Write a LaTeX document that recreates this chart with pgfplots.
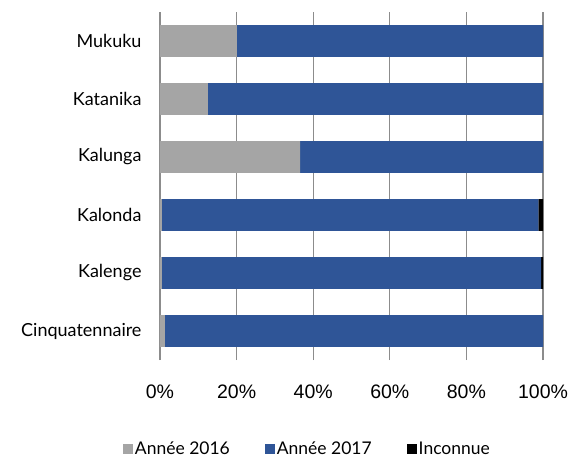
\documentclass[border=0pt]{standalone}
\usepackage{fontspec}
\setmainfont{Lato}
\newfontfamily\tickfont{Liberation Sans}
\usepackage{pgfplots}
\pgfplotsset{compat=1.18}
\definecolor{g16}{RGB}{165,165,165}
\definecolor{b17}{RGB}{47,85,151}
\definecolor{gridc}{RGB}{140,140,140}
\begin{document}
\begin{tikzpicture}
\begin{axis}[
  xbar stacked,
  scale only axis,
  width=383bp, height=348bp,
  xmin=0, xmax=100,
  ymin=-0.5, ymax=5.5,
  bar width=0.55,
  ytick={0,1,2,3,4,5},
  yticklabels={Cinquatennaire,Kalenge,Kalonda,Kalunga,Katanika,Mukuku},
  xtick={0,20,40,60,80,100},
  xticklabels={0\%,20\%,40\%,60\%,80\%,100\%},
  major tick length=0pt,
  xticklabel style={yshift=-21bp, font=\tickfont\fontsize{19.5bp}{22bp}\selectfont},
  yticklabel style={xshift=-15bp, font=\fontsize{18bp}{20bp}\selectfont},
  xmajorgrids,
  grid style={gridc, line width=1.1pt},
  axis line style={draw=none},
  every axis plot/.append style={draw=none},
  legend style={at={(0.385,-0.222)}, anchor=north, draw=none, legend columns=3,
    /tikz/every even column/.append style={column sep=33bp},
    font=\fontsize{17.5bp}{20bp}\selectfont},
  legend image code/.code={\fill[#1] (0bp,-5bp) rectangle (10bp,5bp);},
]
\addplot[fill=g16] coordinates {(1.3,0) (0.5,1) (0.5,2) (36.6,3) (12.5,4) (20.1,5)};
\addplot[fill=b17] coordinates {(98.7,0) (99.0,1) (98.3,2) (63.4,3) (87.5,4) (79.9,5)};
\addplot[fill=black] coordinates {(0,0) (0.5,1) (1.2,2) (0,3) (0,4) (0,5)};
\legend{Année 2016,Année 2017,Inconnue}
\draw[gridc, line width=1.6pt] (rel axis cs:0,0) -- (rel axis cs:0,1);
\coordinate (o) at (rel axis cs:0,0);
\end{axis}
\path (o) ++(-160bp,-95bp) rectangle ++(583bp,455bp);
\end{tikzpicture}
\end{document}
